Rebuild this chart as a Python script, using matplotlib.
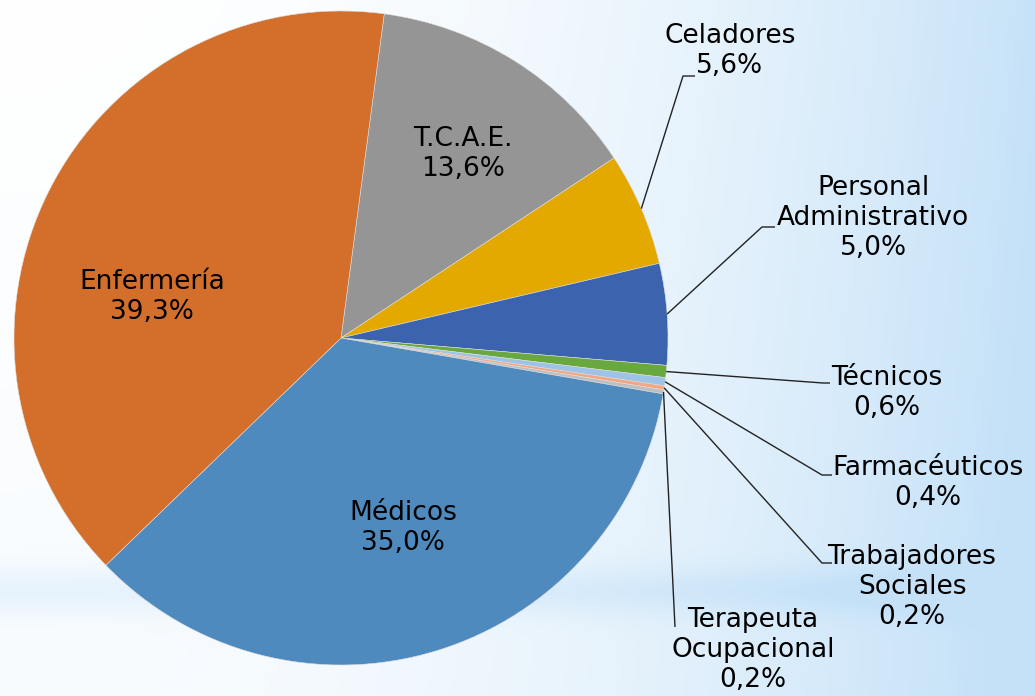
import numpy as np
import matplotlib.pyplot as plt

# datos del gráfico (porcentaje de cada categoría)
categorias = ["T.C.A.E.", "Celadores", "Personal\nAdministrativo", "Técnicos",
              "Farmacéuticos", "Trabajadores\nSociales", "Terapeuta\nOcupacional",
              "Médicos", "Enfermería"]
porcentajes = [13.6, 5.6, 5.0, 0.6, 0.4, 0.2, 0.2, 35.0, 39.3]
colores = ["#959595", "#E4A900", "#3C63AD", "#69A83F", "#9DC3E6",
           "#F4A582", "#BFBFBF", "#4F8ABF", "#D36E2B"]

W, H = 1035, 696
fig = plt.figure(figsize=(W / 100, H / 100), dpi=100)

# fondo con degradado azul claro
bg = fig.add_axes([0, 0, 1, 1])
xx, yy = np.meshgrid(np.linspace(0, 1, W), np.linspace(0, 1, H))
f = np.clip((xx ** 2.2) * 0.95 + 0.3 * np.exp(-((yy - 0.85) / 0.035) ** 2) + 0.12 * yy, 0, 1)
blanco = np.array([1.0, 1.0, 1.0])
azul = np.array([196, 225, 248]) / 255
img = blanco[None, None, :] * (1 - f[..., None]) + azul[None, None, :] * f[..., None]
bg.imshow(img, extent=[0, W, 0, H], aspect="auto")
bg.axis("off")

ax = fig.add_axes([0, 0, 1, 1])

cx, cy, r = 341, H - 338, 327
wedges, _ = ax.pie(porcentajes, colors=colores, startangle=82.4, counterclock=False,
                   center=(cx, cy), radius=r, frame=True,
                   wedgeprops=dict(edgecolor="#dddddd", linewidth=0.4))
ax.set_xlim(0, W)
ax.set_ylim(0, H)
ax.set_aspect("equal")
ax.axis("off")

fs = 19
etiquetas = [f"{c}\n{p:.1f}%".replace(f"{p:.1f}", f"{p:.1f}".replace(".", ","))
             for c, p in zip(categorias, porcentajes)]

# posición del texto (px desde arriba) y codo de la línea guía
pos = {
    "T.C.A.E.": (463, 154, None),
    "Celadores": (730, 51, (683, 76, 695)),
    "Personal\nAdministrativo": (873, 218, (762, 227, 775)),
    "Técnicos": (887, 393, (823, 383, 830)),
    "Farmacéuticos": (928, 483, (822, 475, 832)),
    "Trabajadores\nSociales": (912, 587, (822, 563, 832)),
    "Terapeuta\nOcupacional": (753, 650, (675, 627, 675)),
    "Médicos": (403, 528, None),
    "Enfermería": (152, 297, None),
}

for w, cat, lab in zip(wedges, categorias, etiquetas):
    tx, ty, codo = pos[cat]
    ax.text(tx, H - ty, lab, ha="center", va="center", fontsize=fs,
            color="black", family="DejaVu Sans", linespacing=1.2)
    if codo is not None:
        ang = np.deg2rad((w.theta1 + w.theta2) / 2)
        x0 = cx + r * np.cos(ang)
        y0 = cy + r * np.sin(ang)
        ex, ey, hx = codo
        ax.plot([x0, ex, hx], [y0, H - ey, H - ey], color="#222222", lw=1.0,
                solid_capstyle="butt")

fig.savefig("out.png", dpi=100)
